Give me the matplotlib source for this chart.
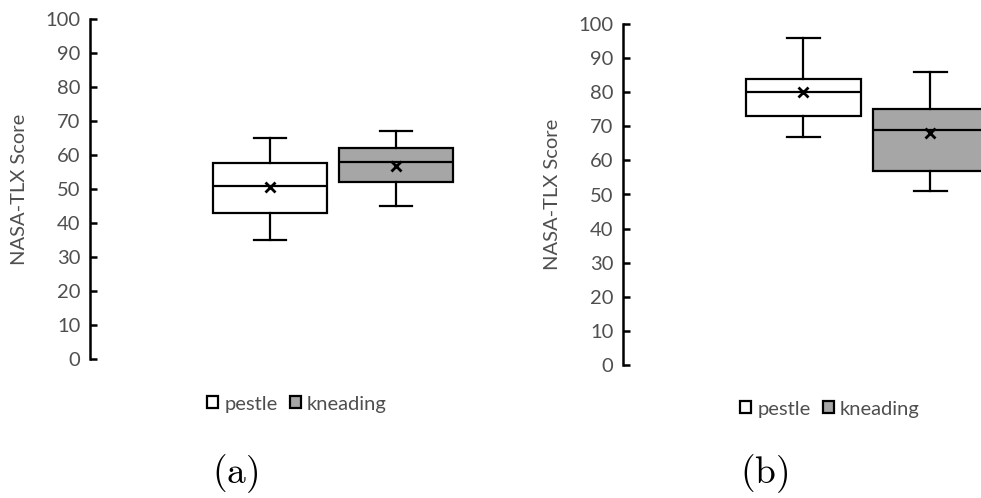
import matplotlib
matplotlib.use("Agg")

import matplotlib.pyplot as plt
from matplotlib.patches import Patch

# NASA-TLX summaries for each condition: (a) and (b)
methods = ["pestle", "kneading"]
fills = ["white", "#a6a6a6"]

a_whislo = [35, 45]
a_q1 = [43, 52]
a_med = [51, 58]
a_q3 = [57.5, 62]
a_whishi = [65, 67]
a_mean = [50.5, 56.8]

b_whislo = [67, 51]
b_q1 = [73, 57]
b_med = [80, 69]
b_q3 = [84, 75]
b_whishi = [96, 86]
b_mean = [80, 68]

yticks = list(range(0, 101, 10))

plt.rcParams["font.family"] = ["Lato", "DejaVu Sans"]
plt.rcParams["mathtext.fontset"] = "cm"
GREY = "#4f4f4f"
FS = 14.5
W, H = 981, 498


def make_stats(lo, q1, med, q3, hi, mean):
    return [
        dict(whislo=lo[i], q1=q1[i], med=med[i], q3=q3[i], whishi=hi[i],
             mean=mean[i], fliers=[], label=methods[i])
        for i in range(len(methods))
    ]


def draw_panel(ax, stats, xlim):
    bp = ax.bxp(stats, positions=[1, 2], widths=0.905, patch_artist=True,
                showmeans=True, showfliers=False,
                boxprops=dict(linewidth=1.6, edgecolor="black"),
                medianprops=dict(color="black", linewidth=1.6),
                whiskerprops=dict(color="black", linewidth=1.6),
                capprops=dict(color="black", linewidth=1.6),
                capwidths=0.26,
                meanprops=dict(marker="x", markeredgecolor="black",
                               markeredgewidth=2.0, markersize=7.5))
    for patch, c in zip(bp["boxes"], fills):
        patch.set_facecolor(c)
    ax.set_xlim(*xlim)
    ax.set_ylim(0, 100)
    ax.set_yticks(yticks)
    ax.set_xticks([])
    for s in ["top", "right", "bottom"]:
        ax.spines[s].set_visible(False)
    ax.spines["left"].set_linewidth(1.8)
    ax.tick_params(axis="y", direction="in", length=5, width=1.8,
                   labelsize=FS, labelcolor=GREY, pad=7)
    ax.set_ylabel("NASA-TLX Score", fontsize=FS, color=GREY, va="center")
    ax.patch.set_visible(False)


def px_axes(fig, left, right, top, bottom):
    return fig.add_axes([left / W, 1 - bottom / H, (right - left) / W,
                         (bottom - top) / H])


fig = plt.figure(figsize=(W / 100, H / 100), dpi=100)

ax_a = px_axes(fig, 90, 470, 19, 359)
draw_panel(ax_a, make_stats(a_whislo, a_q1, a_med, a_q3, a_whishi, a_mean),
           (-0.43, 2.587))
ax_a.yaxis.set_label_coords((20 - 90) / 380, 0.5)

ax_b = px_axes(fig, 623, 981, 24, 365)
draw_panel(ax_b, make_stats(b_whislo, b_q1, b_med, b_q3, b_whishi, b_mean),
           (-0.417, 2.40))
ax_b.yaxis.set_label_coords((553 - 623) / 358, 0.5)

handles = [Patch(facecolor=c, edgecolor="black", linewidth=1.6) for c in fills]
legend_kw = dict(ncol=2, frameon=False, fontsize=FS, handlelength=0.55,
                 handleheight=0.55, handletextpad=0.3, columnspacing=0.6,
                 labelcolor=GREY, loc="center")
fig.legend(handles, methods, bbox_to_anchor=(297 / W, 1 - 404 / H), **legend_kw)
fig.legend(handles, methods, bbox_to_anchor=(830 / W, 1 - 409 / H), **legend_kw)

fig.text(235 / W, 1 - 474 / H, r"$\mathrm{(a)}$", fontsize=27,
         ha="center", va="center")
fig.text(764 / W, 1 - 474 / H, r"$\mathrm{(b)}$", fontsize=27,
         ha="center", va="center")

fig.savefig("out.png", dpi=100)
